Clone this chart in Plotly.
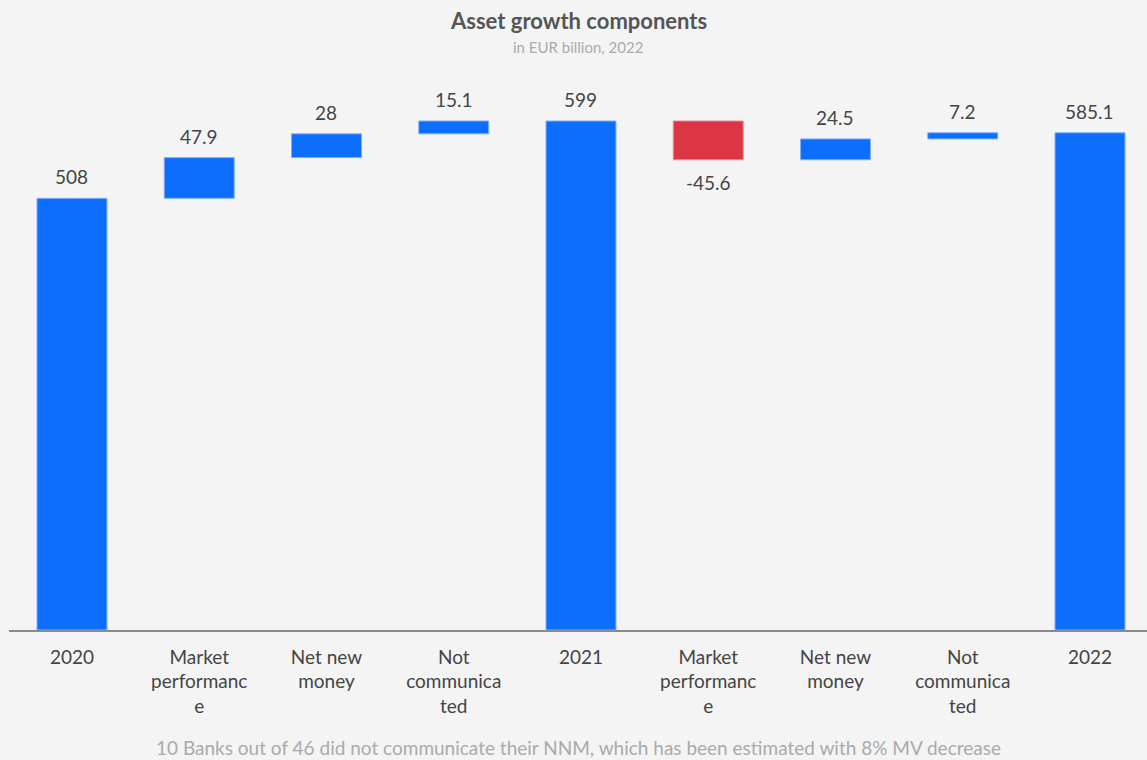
import plotly.graph_objects as go

# Waterfall steps: opening stock, yearly components, closing totals
categories = ["2020", "Market<br>performanc<br>e", "Net new<br>money", "Not<br>communica<br>ted",
              "2021", "Market<br>performanc<br>e", "Net new<br>money", "Not<br>communica<br>ted",
              "2022"]
measures = ["absolute", "relative", "relative", "relative", "total",
            "relative", "relative", "relative", "total"]
values = [508, 47.9, 28, 15.1, 0, -45.6, 24.5, 7.2, 0]

BLUE = "#0d6efd"
BLUE_EDGE = "#7fb0fd"
RED = "#dc3545"
RED_EDGE = "#ee8d97"
FONT = "Lato"
TEXT = "#444444"

fig = go.Figure(go.Waterfall(
    x=list(range(len(categories))),
    measure=measures,
    y=values,
    increasing=dict(marker=dict(color=BLUE, line=dict(color=BLUE_EDGE, width=1))),
    decreasing=dict(marker=dict(color=RED, line=dict(color=RED_EDGE, width=1))),
    totals=dict(marker=dict(color=BLUE, line=dict(color=BLUE_EDGE, width=1))),
    connector=dict(visible=False),
    hoverinfo="x+y",
    showlegend=False,
))

# Value labels: above rising/total bars, below falling ones
labels = []
running = 0.0
for i, (m, v) in enumerate(zip(measures, values)):
    if m == "total":
        shown = running
    elif m == "absolute":
        running = v
        shown = v
    else:
        running += v
        shown = v
    neg = m == "relative" and v < 0
    labels.append(dict(
        x=i, y=running, xref="x", yref="y",
        text=f"{round(shown, 1):g}", showarrow=False,
        yanchor="top" if neg else "bottom",
        yshift=-9 if neg else 8,
        font=dict(family=FONT, size=19, color=TEXT),
    ))

fig.update_layout(
    width=1147, height=760,
    paper_bgcolor="#f4f4f4", plot_bgcolor="#f4f4f4",
    margin=dict(l=9, r=0, t=100, b=130),
    waterfallgap=0.45,
    font=dict(family=FONT, color=TEXT),
    xaxis=dict(
        tickmode="array", tickvals=list(range(len(categories))), ticktext=categories,
        range=[-0.495, 8.448],
        showline=True, linecolor="#8a8a8a", linewidth=1.5,
        showgrid=False, zeroline=False, ticks="",
        ticklabelstandoff=9,
        tickfont=dict(family=FONT, size=19, color=TEXT),
    ),
    yaxis=dict(range=[0, 623.7], visible=False, showgrid=False, zeroline=False),
)


def py(pixel_y):
    # paper y for a pixel row, given the plot area spans rows 100..630
    top, bottom = 100, 630
    return (bottom - pixel_y) / (bottom - top)


fig.layout.annotations = labels + [
    dict(text="<b>Asset growth components</b>", x=0.5, y=py(21), xref="paper", yref="paper",
         xanchor="center", yanchor="middle", showarrow=False,
         font=dict(family=FONT, size=22, color="#555555")),
    dict(text="in EUR billion, 2022", x=0.5, y=py(47), xref="paper", yref="paper",
         xanchor="center", yanchor="middle", showarrow=False,
         font=dict(family=FONT, size=15, color="#aaaaaa")),
    dict(text="10 Banks out of 46 did not communicate their NNM, which has been estimated with 8% MV decrease",
         x=0.5, y=py(747), xref="paper", yref="paper",
         xanchor="center", yanchor="middle", showarrow=False,
         font=dict(family=FONT, size=19, color="#aaaaaa")),
]

fig.write_html("out.html")
